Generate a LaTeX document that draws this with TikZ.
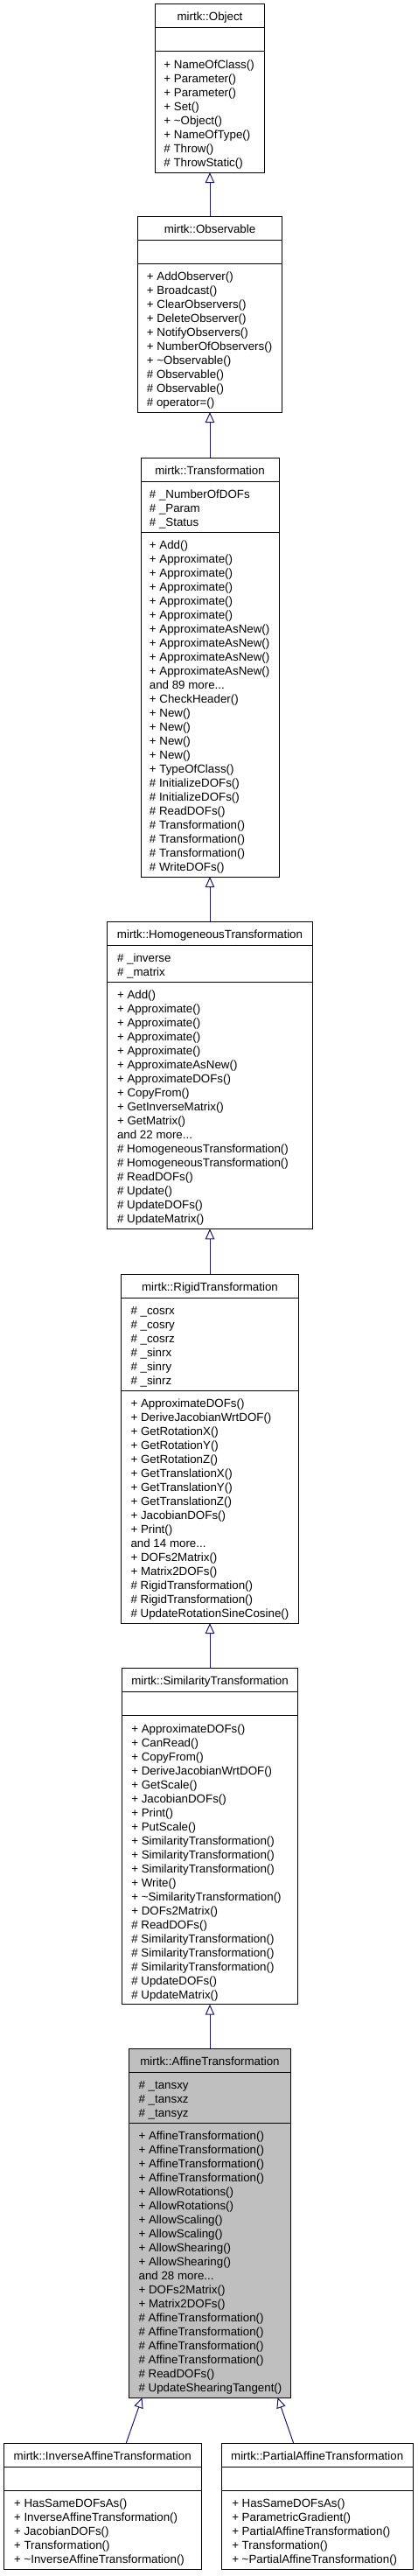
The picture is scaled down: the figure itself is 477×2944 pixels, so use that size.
\documentclass[tikz,border=0pt]{standalone}
\usepackage{fontspec}
\setmainfont{Liberation Sans}
\usetikzlibrary{arrows.meta}
\definecolor{edgeblue}{HTML}{191970}
\definecolor{curfill}{HTML}{BFBFBF}
\newcommand\tdots{...}
\tikzset{
  box/.style={draw=black, line width=1pt, inner sep=0pt, outer sep=0pt},
  boxline/.style={draw=black, line width=1pt},
  titletxt/.style={font=\fontsize{13.33}{16}\selectfont, inner sep=0pt},
  membertxt/.style={font=\fontsize{13.33}{16}\selectfont, inner sep=0pt},
  inherit/.style={draw=edgeblue, line width=1pt, -{Triangle[open, length=12pt, width=10.5pt, line width=1pt]}}
}
\newcommand\mkbox[6]{\node[box, fill=#6, minimum width=#4pt, minimum height=#5pt, anchor=north] (#1) at (#2,#3) {};}
\newcommand\divline[2]{\draw[boxline] ([yshift=-#2pt]#1.north west) -- ([yshift=-#2pt]#1.north east);}
\newcommand\titletext[2]{\node[titletxt, anchor=base] (#1-t) at ([yshift=-19pt]#1.north) {#2};}
\newcommand\members[5]{\foreach \t [count=\i from 0] in {#5} {\node[membertxt, anchor=base west] (#1-#2\i) at ([xshift=#4pt, yshift={-(#3+19.3+16*\i)*1pt}]#1.north west) {\t};}}
\begin{document}
\begin{tikzpicture}[x=1pt,y=-1pt]
\useasboundingbox (0,0) rectangle (477,2944);
% Object
\mkbox{obj}{240}{5}{125.4}{192}{white}
\divline{obj}{27}\divline{obj}{54}
\titletext{obj}{mirtk::Object}
\members{obj}{m}{54}{9.9}{{+ NameOfClass()},{+ Parameter()},{+ Parameter()},{+ Set()},{+ \textasciitilde Object()},{+ NameOfType()},{\# Throw()},{\# ThrowStatic()}}
% Observable
\mkbox{obs}{240}{247}{165}{224}{white}
\divline{obs}{27}\divline{obs}{54}
\titletext{obs}{mirtk::Observable}
\members{obs}{m}{54}{10.2}{{+ AddObserver()},{+ Broadcast()},{+ ClearObservers()},{+ DeleteObserver()},{+ NotifyObservers()},{+ NumberOfObservers()},{+ \textasciitilde Observable()},{\# Observable()},{\# Observable()},{\# operator=()}}
% Transformation
\mkbox{trf}{240}{523}{158}{479}{white}
\divline{trf}{27}\divline{trf}{85}
\titletext{trf}{mirtk::Transformation}
\members{trf}{a}{27}{9.7}{{\# \_NumberOfDOFs},{\# \_Param},{\# \_Status}}
\members{trf}{m}{85}{9.7}{{+ Add()},{+ Approximate()},{+ Approximate()},{+ Approximate()},{+ Approximate()},{+ Approximate()},{+ ApproximateAsNew()},{+ ApproximateAsNew()},{+ ApproximateAsNew()},{+ ApproximateAsNew()},{and 89 more\tdots},{+ CheckHeader()},{+ New()},{+ New()},{+ New()},{+ New()},{+ TypeOfClass()},{\# InitializeDOFs()},{\# InitializeDOFs()},{\# ReadDOFs()},{\# Transformation()},{\# Transformation()},{\# Transformation()},{\# WriteDOFs()}}
% HomogeneousTransformation
\mkbox{hom}{240}{1053.3}{234.3}{351}{white}
\divline{hom}{27}\divline{hom}{69}
\titletext{hom}{mirtk::HomogeneousTransformation}
\members{hom}{a}{27}{11}{{\# \_inverse},{\# \_matrix}}
\members{hom}{m}{69}{11}{{+ Add()},{+ Approximate()},{+ Approximate()},{+ Approximate()},{+ Approximate()},{+ ApproximateAsNew()},{+ ApproximateDOFs()},{+ CopyFrom()},{+ GetInverseMatrix()},{+ GetMatrix()},{and 22 more\tdots},{\# HomogeneousTransformation()},{\# HomogeneousTransformation()},{\# ReadDOFs()},{\# Update()},{\# UpdateDOFs()},{\# UpdateMatrix()}}
% RigidTransformation
\mkbox{rig}{240}{1456}{202.3}{399}{white}
\divline{rig}{27}\divline{rig}{133}
\titletext{rig}{mirtk::RigidTransformation}
\members{rig}{a}{27}{10.5}{{\# \_cosrx},{\# \_cosry},{\# \_cosrz},{\# \_sinrx},{\# \_sinry},{\# \_sinrz}}
\members{rig}{m}{133}{10.5}{{+ ApproximateDOFs()},{+ DeriveJacobianWrtDOF()},{+ GetRotationX()},{+ GetRotationY()},{+ GetRotationZ()},{+ GetTranslationX()},{+ GetTranslationY()},{+ GetTranslationZ()},{+ JacobianDOFs()},{+ Print()},{and 14 more\tdots},{+ DOFs2Matrix()},{+ Matrix2DOFs()},{\# RigidTransformation()},{\# RigidTransformation()},{\# UpdateRotationSineCosine()}}
% SimilarityTransformation
\mkbox{sim}{240}{1906.7}{201}{384}{white}
\divline{sim}{27}\divline{sim}{54}
\titletext{sim}{mirtk::SimilarityTransformation}
\members{sim}{m}{54}{10.6}{{+ ApproximateDOFs()},{+ CanRead()},{+ CopyFrom()},{+ DeriveJacobianWrtDOF()},{+ GetScale()},{+ JacobianDOFs()},{+ Print()},{+ PutScale()},{+ SimilarityTransformation()},{+ SimilarityTransformation()},{+ SimilarityTransformation()},{+ Write()},{+ \textasciitilde SimilarityTransformation()},{+ DOFs2Matrix()},{\# ReadDOFs()},{\# SimilarityTransformation()},{\# SimilarityTransformation()},{\# SimilarityTransformation()},{\# UpdateDOFs()},{\# UpdateMatrix()}}
% AffineTransformation
\mkbox{aff}{240}{2341}{185}{399}{curfill}
\divline{aff}{27}\divline{aff}{85}
\titletext{aff}{mirtk::AffineTransformation}
\members{aff}{a}{27}{10.9}{{\# \_tansxy},{\# \_tansxz},{\# \_tansyz}}
\members{aff}{m}{85}{10.9}{{+ AffineTransformation()},{+ AffineTransformation()},{+ AffineTransformation()},{+ AffineTransformation()},{+ AllowRotations()},{+ AllowRotations()},{+ AllowScaling()},{+ AllowScaling()},{+ AllowShearing()},{+ AllowShearing()},{and 28 more\tdots},{+ DOFs2Matrix()},{+ Matrix2DOFs()},{\# AffineTransformation()},{\# AffineTransformation()},{\# AffineTransformation()},{\# AffineTransformation()},{\# ReadDOFs()},{\# UpdateShearingTangent()}}
% InverseAffineTransformation
\mkbox{inv}{117.2}{2792.3}{225.7}{144}{white}
\divline{inv}{27}\divline{inv}{54}
\titletext{inv}{mirtk::InverseAffineTransformation}
\members{inv}{m}{54}{11.5}{{+ HasSameDOFsAs()},{+ InverseAffineTransformation()},{+ JacobianDOFs()},{+ Transformation()},{+ \textasciitilde InverseAffineTransformation()}}
% PartialAffineTransformation
\mkbox{par}{362.7}{2792.3}{219.3}{144}{white}
\divline{par}{27}\divline{par}{54}
\titletext{par}{mirtk::PartialAffineTransformation}
\members{par}{m}{54}{12}{{+ HasSameDOFsAs()},{+ ParametricGradient()},{+ PartialAffineTransformation()},{+ Transformation()},{+ \textasciitilde PartialAffineTransformation()}}
% inheritance connectors
\draw[inherit] (obs.north) -- (obj.south);
\draw[inherit] (trf.north) -- (obs.south);
\draw[inherit] (hom.north) -- (trf.south);
\draw[inherit] (rig.north) -- (hom.south);
\draw[inherit] (sim.north) -- (rig.south);
\draw[inherit] (aff.north) -- (sim.south);
\draw[inherit] ([xshift=27pt]inv.north) -- ([xshift=-77.5pt]aff.south);
\draw[inherit] ([xshift=-27pt]par.north) -- ([xshift=77.5pt]aff.south);
\end{tikzpicture}
\end{document}
